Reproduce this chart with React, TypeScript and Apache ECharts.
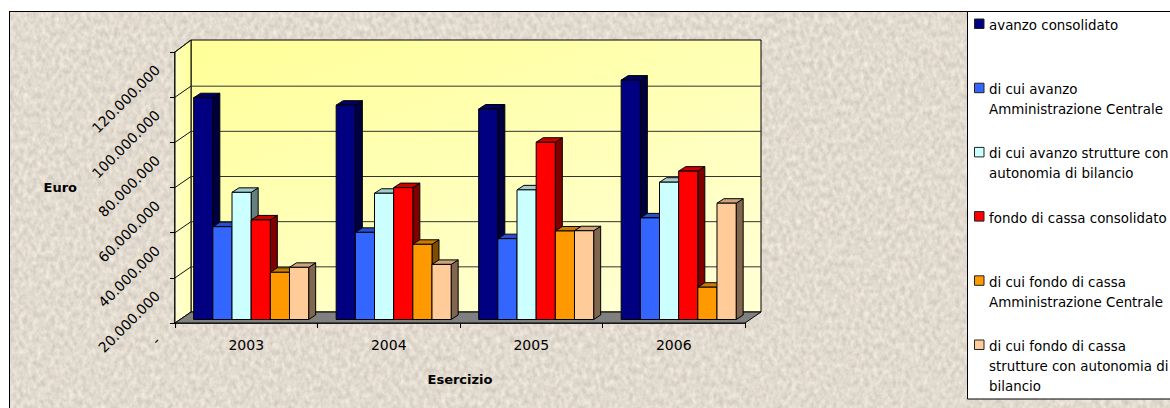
import React, { useEffect, useRef } from "react";
import * as echarts from "echarts";

const categories = ["2003", "2004", "2005", "2006"];
const avanzoConsolidato = [98200000, 94900000, 93200000, 106000000];
const avanzoAmmCentrale = [41100000, 38600000, 35800000, 45000000];
const avanzoStrutture = [56300000, 55900000, 57400000, 60800000];
const fondoConsolidato = [44100000, 58400000, 78500000, 65700000];
const fondoAmmCentrale = [20900000, 33300000, 39200000, 14300000];
const fondoStrutture = [23100000, 24400000, 39300000, 51500000];

const seriesValues = [avanzoConsolidato, avanzoAmmCentrale, avanzoStrutture, fondoConsolidato, fondoAmmCentrale, fondoStrutture];
const seriesNames = [
  "avanzo consolidato",
  "di cui avanzo\nAmministrazione Centrale",
  "di cui avanzo strutture con\nautonomia di bilancio",
  "fondo di cassa consolidato",
  "di cui fondo di cassa\nAmministrazione Centrale",
  "di cui fondo di cassa\nstrutture con autonomia di\nbilancio",
];
const frontColors = ["#000080", "#3366FF", "#CCFFFF", "#FF0000", "#FF9900", "#FFCC99"];
const topColors = ["#000066", "#2850CC", "#A3CCCC", "#CC0000", "#CC7A00", "#CCA37A"];
const sideColors = ["#000040", "#193380", "#668080", "#800000", "#804D00", "#80664D"];
const tickValues = [0, 20000000, 40000000, 60000000, 80000000, 100000000, 120000000];
const tickLabels = ["-", "20.000.000", "40.000.000", "60.000.000", "80.000.000", "100.000.000", "120.000.000"];

const FONT = "'DejaVu Sans', sans-serif";
const WALL_DX = 16;
const WALL_DY = -11;

const noise =
  "data:image/svg+xml," +
  encodeURIComponent(
    `<svg xmlns="http://www.w3.org/2000/svg" width="1170" height="408"><filter id="n" x="0" y="0" width="100%" height="100%" color-interpolation-filters="sRGB"><feTurbulence type="fractalNoise" baseFrequency="0.22 0.16" numOctaves="3" seed="7"/><feColorMatrix values="0.2 0 0 0 0.785  0.2 0 0 0 0.755  0.2 0 0 0 0.71  0 0 0 0 1"/></filter><rect width="1170" height="408" filter="url(#n)"/></svg>`
  );

function renderWalls(params: any, api: any) {
  const cs = params.coordSys;
  const x0 = cs.x;
  const x1 = cs.x + cs.width;
  const yBase = api.coord([categories[0], 0])[1];
  const yTop = api.coord([categories[0], 120000000])[1];
  const bx0 = x0 + WALL_DX;
  const bx1 = x1 + WALL_DX;
  const byBase = yBase + WALL_DY;
  const byTop = yTop + WALL_DY - 1;
  const stroke = { stroke: "#000", lineWidth: 1 };
  const children: any[] = [
    {
      type: "polygon",
      shape: { points: [[bx0, byTop], [bx1, byTop], [bx1, byBase], [bx0, byBase]] },
      style: {
        fill: new echarts.graphic.LinearGradient(0.05, 0, 0.75, 1, [
          { offset: 0, color: "#FFFF99" },
          { offset: 1, color: "#FFFFD2" },
        ]),
        ...stroke,
      },
    },
    {
      type: "polygon",
      shape: { points: [[x0, yBase], [bx0, byBase], [bx0, byTop], [x0, yTop]] },
      style: {
        fill: new echarts.graphic.LinearGradient(1, 0, 0, 1, [
          { offset: 0, color: "#FFFF99" },
          { offset: 1, color: "#FFFFD8" },
        ]),
        ...stroke,
      },
    },
    {
      type: "polygon",
      shape: { points: [[x0, yBase], [x1, yBase], [bx1, byBase], [bx0, byBase]] },
      style: { fill: "#808080", ...stroke },
    },
  ];
  tickValues.slice(1, -1).forEach((v) => {
    const y = api.coord([categories[0], v])[1];
    children.push({
      type: "line",
      shape: { x1: bx0, y1: y + WALL_DY, x2: bx1, y2: y + WALL_DY },
      style: { stroke: "#333", lineWidth: 1 },
    });
    children.push({
      type: "line",
      shape: { x1: x0, y1: y, x2: bx0, y2: y + WALL_DY },
      style: { stroke: "#111", lineWidth: 1 },
    });
  });
  children.push({
    type: "line",
    shape: { x1: x0, y1: yTop, x2: bx0, y2: byTop },
    style: { stroke: "#111", lineWidth: 1 },
  });
  return { type: "group", children };
}

function makeBarRenderer(index: number) {
  return (_params: any, api: any) => {
    const band = api.size([1, 0])[0];
    const barW = band * 0.1345;
    const start = band * 0.131;
    const cx = api.coord([api.value(0), 0])[0];
    const x = cx - band / 2 + start + barW * index;
    const yBase = api.coord([api.value(0), 0])[1] - 3.5;
    const yTop = api.coord([api.value(0), api.value(1)])[1] - 3.5;
    const dx = 7;
    const dy = -4.5;
    const style = { stroke: "#000", lineWidth: 1 };
    return {
      type: "group",
      children: [
        {
          type: "polygon",
          shape: { points: [[x + barW, yTop], [x + barW + dx, yTop + dy], [x + barW + dx, yBase + dy], [x + barW, yBase]] },
          style: { fill: sideColors[index], ...style },
        },
        {
          type: "polygon",
          shape: { points: [[x, yTop], [x + dx, yTop + dy], [x + barW + dx, yTop + dy], [x + barW, yTop]] },
          style: { fill: topColors[index], ...style },
        },
        {
          type: "rect",
          shape: { x, y: yTop, width: barW, height: yBase - yTop },
          style: { fill: frontColors[index], ...style },
        },
      ],
    };
  };
}

export default function App() {
  const ref = useRef<HTMLDivElement>(null);

  useEffect(() => {
    const chart = echarts.init(ref.current!, null, { renderer: "svg", width: 1170, height: 408 });
    const legendGraphics: any[] = [
      {
        type: "rect",
        shape: { x: 967.5, y: 11.5, width: 260, height: 387.5 },
        style: { fill: "#fff", stroke: "#000", lineWidth: 1 },
        z: 1,
      },
    ];
    seriesNames.forEach((name, i) => {
      const cy = 24 + i * 64.2;
      legendGraphics.push({
        type: "rect",
        shape: { x: 974.5, y: cy - 5, width: 9.5, height: 9.5 },
        style: { fill: frontColors[i], stroke: "#222", lineWidth: 1 },
        z: 2,
      });
      legendGraphics.push({
        type: "text",
        x: 989,
        y: cy - 8.5,
        style: { text: name, font: `13.4px ${FONT}`, lineHeight: 20, fill: "#000", verticalAlign: "top" },
        z: 2,
      });
    });

    chart.setOption({
      animation: false,
      backgroundColor: "transparent",
      textStyle: { fontFamily: FONT },
      grid: { left: 175, right: 425, top: 52, bottom: 85 },
      xAxis: {
        type: "category",
        data: categories,
        name: "Esercizio",
        nameLocation: "middle",
        nameGap: 50,
        nameTextStyle: { fontFamily: FONT, fontWeight: "bold", fontSize: 13, color: "#000" },
        axisLine: { show: true, lineStyle: { color: "#000", width: 1.5 } },
        axisTick: { show: true, length: 5, lineStyle: { color: "#000" } },
        axisLabel: { fontFamily: FONT, fontSize: 14, color: "#000", margin: 15 },
        splitLine: { show: false },
      },
      yAxis: {
        type: "value",
        min: 0,
        max: 120000000,
        interval: 20000000,
        name: "Euro",
        nameLocation: "middle",
        nameGap: 98,
        nameRotate: 0,
        nameTextStyle: { fontFamily: FONT, fontWeight: "bold", fontSize: 13, color: "#000" },
        axisLine: { show: true, lineStyle: { color: "#000", width: 1.5 } },
        axisTick: { show: true, length: 5, lineStyle: { color: "#000" } },
        axisLabel: {
          fontFamily: FONT,
          fontSize: 14,
          color: "#000",
          rotate: 45,
          margin: 2,
          padding: [0, 22, 0, 0],
          hideOverlap: false,
          showMinLabel: true,
          showMaxLabel: true,
          formatter: (v: number) => tickLabels[tickValues.indexOf(v)],
        },
        splitLine: { show: false },
      },
      graphic: legendGraphics,
      series: [
        {
          type: "custom",
          name: "pareti",
          silent: true,
          clip: false,
          z: 1,
          data: [[categories[0], 0]],
          encode: { x: 0, y: 1 },
          renderItem: renderWalls,
        },
        ...seriesValues.map((values, i) => ({
          type: "custom",
          name: seriesNames[i],
          silent: true,
          clip: false,
          z: 2 + i,
          data: categories.map((c, k) => [c, values[k]]),
          encode: { x: 0, y: 1 },
          renderItem: makeBarRenderer(i),
        })),
      ],
    });
    return () => chart.dispose();
  }, []);

  return (
    <div style={{ position: "fixed", left: 0, top: 0, width: 1170, height: 408, overflow: "hidden", background: "#fff" }}>
      <div
        style={{
          position: "absolute",
          left: 9,
          top: 11,
          width: 1300,
          height: 500,
          boxSizing: "border-box",
          border: "1px solid #000",
          backgroundImage: `url("${noise}")`,
        }}
      />
      <div ref={ref} style={{ position: "absolute", left: 0, top: 0, width: 1170, height: 408 }} />
    </div>
  );
}
